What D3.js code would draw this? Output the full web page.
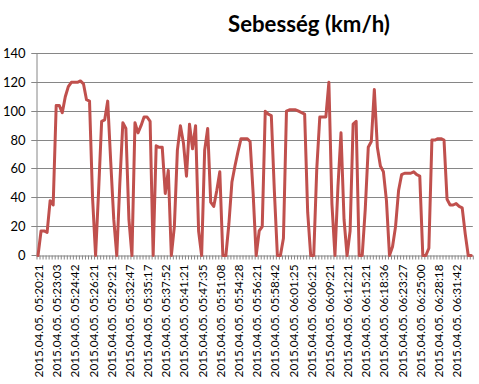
<!DOCTYPE html>
<html><head><meta charset="utf-8">
<script src="https://cdn.jsdelivr.net/npm/d3@7"></script>
<style>body{margin:0;background:#fff} svg{display:block}</style>
</head><body>
<script>
const chartTitle = "Sebesség (km/h)";
const speed = [
  0,17,17,16,38,35,104,104,99,110,117,120,120,120,121,119,108,107,40,0,
  45,93,94,107,65,25,0,50,92,88,25,0,92,85,90,96,96,93,0,76,
  75,75,43,59,0,20,73,90,78,55,91,74,90,17,0,73,88,37,34,45,
  58,0,0,22,51,62,72,81,81,81,79,43,0,17,20,100,98,97,45,0,
  0,12,100,101,101,101,100,99,98,30,0,0,60,96,96,96,120,36,0,48,
  85,25,0,17,91,93,0,0,32,75,79,115,75,62,58,38,0,6,20,45,
  56,57,57,57,58,56,55,0,0,5,80,80,81,81,80,39,35,35,36,34,
  33,15,0,0
];
const tickLabels = [
  "2015.04.05. 05:20:21","2015.04.05. 05:23:03","2015.04.05. 05:24:42","2015.04.05. 05:26:21",
  "2015.04.05. 05:29:21","2015.04.05. 05:32:47","2015.04.05. 05:35:17","2015.04.05. 05:37:52",
  "2015.04.05. 05:41:21","2015.04.05. 05:47:35","2015.04.05. 05:51:08","2015.04.05. 05:54:28",
  "2015.04.05. 05:56:21","2015.04.05. 05:58:42","2015.04.05. 06:01:25","2015.04.05. 06:06:21",
  "2015.04.05. 06:09:21","2015.04.05. 06:12:21","2015.04.05. 06:15:21","2015.04.05. 06:18:36",
  "2015.04.05. 06:23:27","2015.04.05. 06:25:00","2015.04.05. 06:28:18","2015.04.05. 06:31:42"
];
const labelEvery = 6;
const yTicks = [0,20,40,60,80,100,120,140];

const W = 479, H = 384;
const L = 36.5, R = 472.8, T = 53.5, B = 255.5;
const FONT = "Lato, 'Open Sans', sans-serif";

const svg = d3.select("body").append("svg").attr("width", W).attr("height", H);

const x = d3.scaleBand().domain(d3.range(speed.length)).range([L, R]).padding(0);
const xb = d3.scaleLinear().domain([0, speed.length]).range([L, R]);
const y = d3.scaleLinear().domain([0, 140]).range([B, T]);
const snap = v => Math.round(v - 0.5) + 0.5;

// gridlines
const grid = svg.append("g").attr("transform", `translate(${L},0)`)
  .call(d3.axisLeft(y).tickValues(yTicks.filter(v => v > 0)).tickSize(-(R - L)).tickFormat(""));
grid.select(".domain").remove();
grid.selectAll(".tick").attr("transform", d => `translate(0,${snap(y(d))})`);
grid.selectAll("line").attr("stroke", "#868686").attr("stroke-width", 1).attr("x1", -5);

// y axis with labels
const ya = svg.append("g").attr("transform", `translate(${L},0)`)
  .call(d3.axisLeft(y).tickValues(yTicks).tickSize(5).tickSizeOuter(0).tickPadding(6));
ya.selectAll(".tick").attr("transform", d => `translate(0,${snap(y(d))})`);
ya.select(".domain").attr("stroke", "#868686").attr("d", `M0.5,${T}V${B}`);
ya.selectAll("line").attr("stroke", "#868686");
ya.selectAll("text").attr("font-family", FONT).attr("font-size", 13).attr("fill", "#000").attr("dy", "0.35em");

// x axis tick marks at category boundaries
const xt = svg.append("g").attr("transform", `translate(0,${B})`)
  .call(d3.axisBottom(xb).tickValues(d3.range(speed.length + 1)).tickSize(4).tickSizeOuter(0).tickFormat(""));
xt.select(".domain").attr("stroke", "#868686").attr("d", `M${L},0.5H${R}`);
xt.selectAll("line").attr("stroke", "#868686");

// x labels
const xl = svg.append("g").attr("transform", `translate(0,${B})`)
  .call(d3.axisBottom(x).tickValues(d3.range(0, speed.length, labelEvery))
    .tickFormat(i => tickLabels[i / labelEvery]).tickSize(0).tickPadding(0));
xl.select(".domain").remove();
xl.selectAll("text")
  .attr("font-family", FONT).attr("font-size", 13).attr("fill", "#000")
  .attr("text-anchor", "end").attr("dominant-baseline", "central")
  .attr("transform", "translate(0.5,9) rotate(-90)").attr("x", 0).attr("y", 0).attr("dy", null);
// fit label length to ~113px
const sample = xl.select("text").node();
const len = sample.getComputedTextLength();
const fs = 13 * 113 / len;
xl.selectAll("text").attr("font-size", fs);

// line
svg.append("path").datum(speed)
  .attr("fill", "none").attr("stroke", "#C0504D").attr("stroke-width", 3)
  .attr("stroke-linejoin", "round").attr("stroke-linecap", "round")
  .attr("d", d3.line().x((d, i) => x(i) + x.bandwidth() / 2).y(d => y(d)));

// title
const t = svg.append("text").attr("x", 309).attr("y", 32).attr("text-anchor", "middle")
  .attr("font-family", FONT).attr("font-weight", "bold").attr("font-size", 24).attr("fill", "#000")
  .text(chartTitle);
const tl = t.node().getComputedTextLength();
t.attr("font-size", 24 * 162 / tl);
</script>
</body></html>
